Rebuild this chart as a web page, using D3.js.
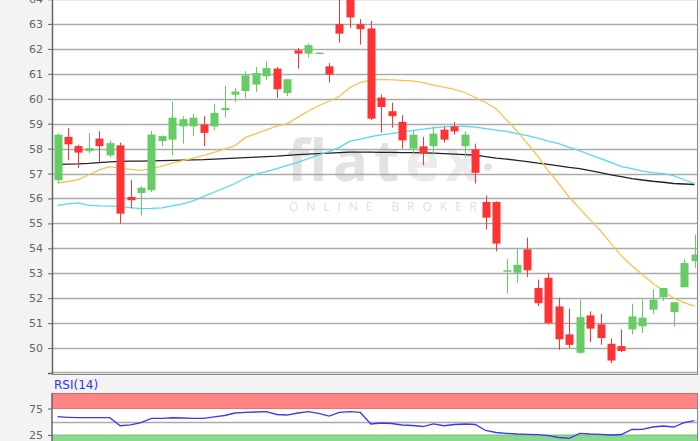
<!DOCTYPE html>
<html>
<head>
<meta charset="utf-8">
<script src="https://cdn.jsdelivr.net/npm/d3@7"></script>
<style>
  body { margin: 0; background: #f3f3f3; }
  svg { display: block; }
</style>
</head>
<body>
<script>
// daily candles
var opens  = [56.73, 58.47, 58.10, 57.90, 58.40, 57.73, 58.13, 56.06, 56.22, 56.33,
              58.30, 58.36, 58.89, 58.89, 58.97, 58.89, 59.54, 60.16, 60.31, 60.57,
              60.90, 61.21, 60.23, 61.94, 61.81, 61.83, 61.30, 62.99, 64.20, 62.99,
              62.82, 60.05, 59.50, 59.07, 58.00, 58.09, 58.10, 58.76, 58.89, 58.10,
              57.97, 55.86, 55.86, 53.10, 53.02, 53.96, 52.41, 52.82, 51.67, 50.55,
              49.81, 51.31, 50.95, 50.17, 50.08, 50.75, 50.87, 51.54, 52.04, 51.44,
              52.44, 53.49];
var highs  = [58.60, 58.83, 58.16, 58.63, 58.70, 58.33, 58.24, 56.75, 56.49, 58.71,
              58.53, 59.87, 59.30, 59.40, 59.30, 59.80, 60.51, 60.43, 61.10, 61.27,
              61.50, 61.27, 60.78, 62.04, 62.21, 61.86, 61.43, 64.40, 64.50, 63.19,
              63.12, 60.17, 59.84, 59.34, 58.73, 58.47, 58.89, 58.89, 59.07, 58.69,
              58.20, 56.12, 55.88, 53.56, 53.99, 54.43, 52.75, 53.02, 52.02, 51.58,
              51.95, 51.47, 51.38, 50.38, 50.75, 51.78, 51.95, 52.35, 52.41, 51.84,
              53.56, 54.55];
var lows   = [56.62, 57.53, 57.22, 57.80, 57.44, 57.64, 54.99, 55.60, 55.32, 56.26,
              58.10, 57.73, 58.20, 58.50, 58.10, 58.73, 59.24, 59.87, 60.03, 60.27,
              60.77, 60.03, 60.11, 61.21, 61.65, 61.82, 60.65, 62.25, 62.84, 62.17,
              59.14, 58.64, 58.84, 58.00, 57.77, 57.33, 57.77, 58.24, 58.56, 57.66,
              56.60, 54.76, 53.88, 52.18, 52.62, 52.85, 51.68, 50.95, 49.93, 50.01,
              49.77, 50.24, 50.13, 49.40, 49.84, 50.55, 50.61, 51.38, 51.88, 50.87,
              52.44, 53.22];
var closes = [58.56, 58.17, 57.84, 58.02, 58.10, 58.22, 55.39, 55.93, 56.43, 58.56,
              58.50, 59.24, 59.18, 59.24, 58.63, 59.43, 59.63, 60.29, 60.94, 61.03,
              61.23, 60.38, 60.78, 61.81, 62.15, 61.85, 60.97, 62.61, 63.26, 62.79,
              59.20, 59.67, 59.30, 58.33, 58.56, 57.82, 58.60, 58.36, 58.69, 58.56,
              57.03, 55.23, 54.19, 53.12, 53.34, 53.12, 51.80, 51.00, 50.35, 50.13,
              51.24, 50.78, 50.40, 49.50, 49.88, 51.27, 51.22, 51.94, 52.41, 51.84,
              53.41, 53.75];

// moving averages (orange, cyan, black)
var maFast = [56.62, 56.68, 56.76, 56.95, 57.15, 57.28, 57.22, 57.17, 57.13, 57.20,
              57.30, 57.42, 57.52, 57.62, 57.73, 57.85, 57.98, 58.12, 58.45, 58.60,
              58.75, 58.90, 59.00, 59.25, 59.50, 59.72, 59.90, 60.10, 60.45, 60.65,
              60.75, 60.78, 60.76, 60.74, 60.72, 60.65, 60.55, 60.47, 60.38, 60.25,
              60.05, 59.85, 59.60, 59.15, 58.70, 58.20, 57.70, 57.10, 56.60, 56.05,
              55.60, 55.15, 54.70, 54.20, 53.70, 53.30, 52.95, 52.60, 52.30, 52.00,
              51.82, 51.68];
var maMid  = [55.72, 55.78, 55.82, 55.72, 55.70, 55.69, 55.68, 55.63, 55.59, 55.60,
              55.62, 55.70, 55.78, 55.90, 56.08, 56.25, 56.42, 56.60, 56.82, 56.98,
              57.08, 57.20, 57.33, 57.45, 57.60, 57.75, 57.88, 58.05, 58.30, 58.38,
              58.48, 58.55, 58.60, 58.68, 58.72, 58.78, 58.83, 58.87, 58.89, 58.89,
              58.86, 58.80, 58.74, 58.69, 58.60, 58.52, 58.42, 58.30, 58.20, 58.05,
              57.92, 57.75, 57.60, 57.45, 57.28, 57.20, 57.10, 57.04, 57.00, 56.92,
              56.75, 56.60];
var maSlow = [57.37, 57.38, 57.39, 57.41, 57.44, 57.47, 57.49, 57.50, 57.50, 57.51,
              57.52, 57.53, 57.54, 57.55, 57.56, 57.58, 57.60, 57.62, 57.64, 57.66,
              57.68, 57.70, 57.73, 57.76, 57.78, 57.80, 57.82, 57.84, 57.86, 57.86,
              57.86, 57.85, 57.85, 57.84, 57.84, 57.83, 57.82, 57.80, 57.78, 57.76,
              57.74, 57.68, 57.62, 57.58, 57.53, 57.48, 57.42, 57.37, 57.31, 57.25,
              57.20, 57.12, 57.04, 56.95, 56.88, 56.80, 56.74, 56.69, 56.65, 56.60,
              56.58, 56.56];

// RSI(14)
var rsi = [59.5, 58.4, 57.6, 57.6, 57.6, 57.6, 42.5, 44.2, 48.2, 56.5,
           56.5, 57.5, 57.1, 56.5, 56.5, 59.0, 61.8, 66.5, 67.5, 68.4,
           69.0, 63.7, 62.7, 66.5, 69.0, 65.6, 60.8, 67.8, 69.0, 67.5,
           45.8, 47.6, 46.7, 43.9, 42.9, 41.0, 45.8, 42.5, 44.8, 45.8,
           44.8, 33.5, 29.7, 28.2, 26.9, 26.3, 25.6, 24.0, 20.3, 18.8,
           28.2, 26.9, 26.3, 25.0, 25.9, 35.4, 35.8, 40.1, 42.0, 40.1,
           48.2, 52.0];

var yTicks = [50, 51, 52, 53, 54, 55, 56, 57, 58, 59, 60, 61, 62, 63, 64];
var rsiTicks = [25, 75];

// chart area
var width = 700, height = 441;
var plotLeft = 52, plotRight = 697;
var mainBottom = 373;
var rsiTop = 393;

var upColor = '#66cc66', downColor = '#ff3333';

var svg = d3.select('body').append('svg')
    .attr('width', width)
    .attr('height', height)
    .style('font-family', '"DejaVu Sans", sans-serif');

// scales
var x = d3.scaleLinear().domain([0, opens.length - 1]).range([57.5, 694.5]);
var y = d3.scaleLinear().domain([49, 64]).range([mainBottom, -1]);
var yR = d3.scaleLinear().domain([25, 75]).range([435, 408.5]);

// main panel background
svg.append('rect')
    .attr('x', plotLeft).attr('y', -5)
    .attr('width', plotRight - plotLeft).attr('height', mainBottom + 5)
    .attr('fill', '#fff');

svg.append('clipPath').attr('id', 'mainClip')
  .append('rect')
    .attr('x', plotLeft).attr('y', -5)
    .attr('width', plotRight - plotLeft).attr('height', mainBottom + 5);

// watermark
var wm = svg.append('g').attr('class', 'watermark');
var logo = wm.append('text')
    .attr('x', 287).attr('y', 181)
    .attr('font-family', '"Open Sans", sans-serif')
    .attr('font-weight', 'bold')
    .attr('font-size', 58)
    .attr('textLength', 192)
    .attr('lengthAdjust', 'spacing');
logo.append('tspan').attr('fill', '#e2e2e2').text('flat');
logo.append('tspan').attr('fill', '#ececec').text('ex');
wm.append('circle').attr('cx', 488).attr('cy', 167).attr('r', 3.8).attr('fill', '#e0e0e0');
wm.append('text')
    .attr('x', 289).attr('y', 211)
    .attr('font-family', '"Open Sans", sans-serif')
    .attr('font-size', 12)
    .attr('fill', '#e0e0e0')
    .attr('textLength', 188)
    .attr('lengthAdjust', 'spacing')
    .text('ONLINE BROKER');

// grid
svg.append('g').attr('class', 'grid')
  .selectAll('line').data(yTicks).enter().append('line')
    .attr('x1', plotLeft).attr('x2', plotRight)
    .attr('y1', function(d) { return Math.round(y(d)) + 0.5; })
    .attr('y2', function(d) { return Math.round(y(d)) + 0.5; })
    .attr('stroke', '#aaa')
    .attr('stroke-width', 1.5);

// moving averages
var lineGen = function(arr) {
  return d3.line()
    .x(function(d, i) { return x(i); })
    .y(function(d) { return y(d); })(arr);
};
var plot = svg.append('g').attr('clip-path', 'url(#mainClip)');
[[maSlow, '#222'], [maMid, '#55d8f5'], [maFast, '#fbc04e']].forEach(function(s) {
  plot.append('path')
    .attr('d', lineGen(s[0]))
    .attr('fill', 'none')
    .attr('stroke', s[1])
    .attr('stroke-width', 1.3);
});

// candles
var candles = plot.selectAll('.candle').data(opens).enter().append('g')
    .attr('class', 'candle');
candles.append('line')
    .attr('x1', function(d, i) { return Math.round(x(i)) + 0.5; })
    .attr('x2', function(d, i) { return Math.round(x(i)) + 0.5; })
    .attr('y1', function(d, i) { return y(highs[i]); })
    .attr('y2', function(d, i) { return y(lows[i]); })
    .attr('stroke', function(d, i) { return closes[i] >= opens[i] ? upColor : downColor; })
    .attr('stroke-width', 1);
candles.append('rect')
    .attr('x', function(d, i) { return Math.round(x(i)) - 3.5; })
    .attr('width', 8)
    .attr('y', function(d, i) { return y(Math.max(opens[i], closes[i])); })
    .attr('height', function(d, i) {
      return Math.max(1.5, Math.abs(y(opens[i]) - y(closes[i])));
    })
    .attr('fill', function(d, i) { return closes[i] >= opens[i] ? upColor : downColor; });

// frame of main panel
svg.append('line').attr('x1', plotLeft).attr('x2', plotRight)
    .attr('y1', mainBottom - 0.5).attr('y2', mainBottom - 0.5).attr('stroke', '#aaa').attr('stroke-width', 1.5);
svg.append('line').attr('x1', plotLeft).attr('x2', plotRight)
    .attr('y1', mainBottom + 1.5).attr('y2', mainBottom + 1.5).attr('stroke', '#888');
svg.append('line').attr('x1', plotRight + 0.5).attr('x2', plotRight + 0.5)
    .attr('y1', -5).attr('y2', mainBottom + 2).attr('stroke', '#888');

// y axis
var yAxis = d3.axisLeft(y).tickValues(yTicks).tickSize(4).tickPadding(5);
var gy = svg.append('g')
    .attr('class', 'y axis')
    .attr('transform', 'translate(' + plotLeft + ',0)')
    .call(yAxis);
gy.select('.domain').attr('stroke', '#666').attr('stroke-width', 1.5);
gy.selectAll('.tick line').attr('stroke', '#666');
gy.selectAll('.tick text').attr('fill', '#666').attr('font-size', 11)
    .attr('font-family', '"DejaVu Sans", sans-serif');

// RSI panel
svg.append('rect')
    .attr('x', plotLeft).attr('y', rsiTop)
    .attr('width', plotRight - plotLeft).attr('height', height - rsiTop + 5)
    .attr('fill', '#fff');
svg.append('rect')
    .attr('x', plotLeft).attr('y', rsiTop)
    .attr('width', plotRight - plotLeft).attr('height', yR(75) - rsiTop)
    .attr('fill', '#ff8585');
svg.append('line').attr('x1', plotLeft).attr('x2', plotRight)
    .attr('y1', rsiTop + 0.5).attr('y2', rsiTop + 0.5).attr('stroke', '#d96a6a');
svg.append('line').attr('x1', plotLeft).attr('x2', plotRight)
    .attr('y1', yR(75)).attr('y2', yR(75)).attr('stroke', '#f07070');
svg.append('rect')
    .attr('x', plotLeft).attr('y', yR(25))
    .attr('width', plotRight - plotLeft).attr('height', height - yR(25) + 5)
    .attr('fill', '#8ed88e');
svg.append('line').attr('x1', plotLeft).attr('x2', plotRight)
    .attr('y1', yR(25)).attr('y2', yR(25)).attr('stroke', '#6cc46c');
svg.append('line').attr('x1', plotLeft).attr('x2', plotRight)
    .attr('y1', Math.round(yR(50)) + 0.5).attr('y2', Math.round(yR(50)) + 0.5)
    .attr('stroke', '#aaa').attr('stroke-width', 1.5);

svg.append('path')
    .attr('d', d3.line()
      .x(function(d, i) { return x(i); })
      .y(function(d) { return yR(d); })(rsi))
    .attr('fill', 'none')
    .attr('stroke', '#3a3af5')
    .attr('stroke-width', 1.3);

svg.append('line').attr('x1', plotRight + 0.5).attr('x2', plotRight + 0.5)
    .attr('y1', rsiTop).attr('y2', height).attr('stroke', '#888');

var rAxis = d3.axisLeft(yR).tickValues(rsiTicks).tickSize(4).tickPadding(5);
var gr = svg.append('g')
    .attr('class', 'y axis')
    .attr('transform', 'translate(' + plotLeft + ',0)')
    .call(rAxis);
gr.select('.domain').remove();
svg.append('line').attr('x1', plotLeft).attr('x2', plotLeft)
    .attr('y1', rsiTop).attr('y2', height).attr('stroke', '#666').attr('stroke-width', 1.5);
gr.selectAll('.tick line').attr('stroke', '#666');
gr.selectAll('.tick text').attr('fill', '#666').attr('font-size', 11)
    .attr('font-family', '"DejaVu Sans", sans-serif');

svg.append('text')
    .attr('x', 54).attr('y', 389)
    .attr('fill', '#3333ff')
    .attr('font-size', 12)
    .text('RSI(14)');
</script>
</body>
</html>
